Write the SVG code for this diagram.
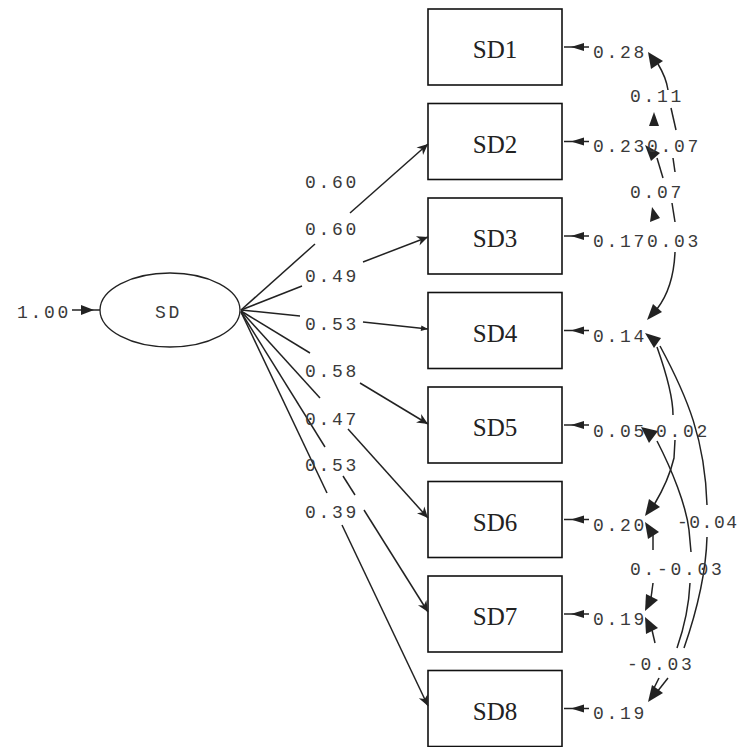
<svg xmlns="http://www.w3.org/2000/svg" width="739" height="747" viewBox="0 0 739 747">
<defs>
<style>
.box{fill:none;stroke:#111;stroke-width:1.6}
.lbl{font-family:"Liberation Mono","DejaVu Sans Mono",monospace;font-size:18px;letter-spacing:2.7px;fill:#3a3a3a}
.nm{font-family:"Liberation Serif","DejaVu Serif",serif;font-size:25px;fill:#222;text-anchor:middle}
.ln{stroke:#222;stroke-width:1.5;fill:none}
.ah{fill:#222}
</style>
<marker id="big" viewBox="0 0 10 10" refX="10" refY="5" markerWidth="16" markerHeight="11" markerUnits="userSpaceOnUse" orient="auto">
<path d="M0,0.5 L10,5 L0,9.5 L3,5 z" fill="#222"/>
</marker>
<marker id="small" viewBox="0 0 10 10" refX="10" refY="5" markerWidth="11" markerHeight="7" markerUnits="userSpaceOnUse" orient="auto">
<path d="M0,1 L10,5 L0,9 z" fill="#222"/>
</marker>
</defs>
<rect width="739" height="747" fill="#fff"/>

<g id="SD">
<ellipse cx="170" cy="310" rx="70" ry="37" fill="none" stroke="#222" stroke-width="1.3"/>
<text class="lbl" x="155" y="318">SD</text>
<text class="lbl" x="17" y="318">1.00</text>
<line class="ln" x1="72" y1="310" x2="100" y2="310"/>
<polygon class="ah" points="94,310 81,305 81,315"/>
</g>

<g id="SD1"><rect class="box" x="428" y="9" width="134" height="76"/><text class="nm" x="495" y="58">SD1</text></g>
<g id="SD2"><rect class="box" x="428" y="103.5" width="134" height="76"/><text class="nm" x="495" y="152.5">SD2</text></g>
<g id="SD3"><rect class="box" x="428" y="198" width="134" height="76"/><text class="nm" x="495" y="247">SD3</text></g>
<g id="SD4"><rect class="box" x="428" y="292.5" width="134" height="76"/><text class="nm" x="495" y="341.5">SD4</text></g>
<g id="SD5"><rect class="box" x="428" y="387" width="134" height="76"/><text class="nm" x="495" y="436">SD5</text></g>
<g id="SD6"><rect class="box" x="428" y="481.5" width="134" height="76"/><text class="nm" x="495" y="530.5">SD6</text></g>
<g id="SD7"><rect class="box" x="428" y="576" width="134" height="76"/><text class="nm" x="495" y="625">SD7</text></g>
<g id="SD8"><rect class="box" x="428" y="670.5" width="134" height="76"/><text class="nm" x="495" y="719.5">SD8</text></g>

<g id="loadings">
<line class="ln" x1="241" y1="310" x2="315" y2="244"/>
<line class="ln" x1="350" y1="213" x2="428" y2="144" marker-end="url(#big)"/>
<line class="ln" x1="241" y1="310" x2="302" y2="286"/>
<line class="ln" x1="363" y1="262" x2="428" y2="237" marker-end="url(#big)"/>
<line class="ln" x1="241" y1="310" x2="300" y2="316"/>
<line class="ln" x1="363" y1="322" x2="428" y2="329" marker-end="url(#small)"/>
<line class="ln" x1="241" y1="311" x2="310" y2="353"/>
<line class="ln" x1="360" y1="383" x2="428" y2="424" marker-end="url(#big)"/>
<line class="ln" x1="241" y1="311" x2="320" y2="398"/>
<line class="ln" x1="348" y1="429" x2="428" y2="518" marker-end="url(#big)"/>
<line class="ln" x1="241" y1="312" x2="325" y2="447"/>
<line class="ln" x1="343" y1="476" x2="355" y2="495"/>
<line class="ln" x1="364" y1="510" x2="428" y2="612" marker-end="url(#big)"/>
<line class="ln" x1="241" y1="312" x2="327" y2="493"/>
<line class="ln" x1="342" y1="525" x2="428" y2="706" marker-end="url(#big)"/>
<text class="lbl" x="305" y="188">0.60</text>
<text class="lbl" x="305" y="235">0.60</text>
<text class="lbl" x="305" y="282">0.49</text>
<text class="lbl" x="305" y="330">0.53</text>
<text class="lbl" x="305" y="377">0.58</text>
<text class="lbl" x="305" y="425">0.47</text>
<text class="lbl" x="305" y="471">0.53</text>
<text class="lbl" x="305" y="518">0.39</text>
</g>

<g id="errors">
<line class="ln" x1="589" y1="47" x2="564" y2="47"/><polygon class="ah" points="571,47 584,43 584,51"/>
<line class="ln" x1="589" y1="141.5" x2="564" y2="141.5"/><polygon class="ah" points="571,141.5 584,137.5 584,145.5"/>
<line class="ln" x1="589" y1="236" x2="564" y2="236"/><polygon class="ah" points="571,236 584,232 584,240"/>
<line class="ln" x1="589" y1="330.5" x2="564" y2="330.5"/><polygon class="ah" points="571,330.5 584,326.5 584,334.5"/>
<line class="ln" x1="589" y1="425" x2="564" y2="425"/><polygon class="ah" points="571,425 584,421 584,429"/>
<line class="ln" x1="589" y1="519.5" x2="564" y2="519.5"/><polygon class="ah" points="571,519.5 584,515.5 584,523.5"/>
<line class="ln" x1="589" y1="614" x2="564" y2="614"/><polygon class="ah" points="571,614 584,610 584,618"/>
<line class="ln" x1="589" y1="708.5" x2="564" y2="708.5"/><polygon class="ah" points="571,708.5 584,704.5 584,712.5"/>
<text class="lbl" x="593" y="58">0.28</text>
<text class="lbl" x="593" y="152">0.23</text>
<text class="lbl" x="593" y="247">0.17</text>
<text class="lbl" x="593" y="342">0.14</text>
<text class="lbl" x="593" y="437">0.05</text>
<text class="lbl" x="593" y="531">0.20</text>
<text class="lbl" x="593" y="625">0.19</text>
<text class="lbl" x="593" y="719">0.19</text>
</g>

<g id="covariances">
<path class="ln" d="M658,64 C664,74 667,83 668,90"/>
<path class="ln" d="M671,108 L676,130"/>
<path class="ln" d="M673,158 L675,172"/>
<path class="ln" d="M672,203 L675,222"/>
<path class="ln" d="M675,252 C674,278 667,296 657,309"/>
<path class="ln" d="M657,158 L663,178"/>
<path class="ln" d="M660,346 C688,398 705,440 707,505"/>
<path class="ln" d="M707,537 C706,572 699,605 684,648"/>
<path class="ln" d="M668,678 L657,692"/>
<path class="ln" d="M657,347 C668,378 673,400 673,415"/>
<path class="ln" d="M675,440 L674,458 C670,475 663,490 654,505"/>
<path class="ln" d="M657,441 C672,470 686,505 689,530 L691,552"/>
<path class="ln" d="M690,583 C689,605 684,628 677,648"/>
<path class="ln" d="M659,678 L652,692"/>
<path class="ln" d="M653,535 L653,550"/>
<path class="ln" d="M653,583 L651,598"/>
<path class="ln" d="M652,630 L655,643"/>
<polygon class="ah" points="648,52 663,61 651,69"/>
<polygon class="ah" points="654,112 659,126 649,126"/>
<polygon class="ah" points="645,145 660,153 651,161"/>
<polygon class="ah" points="650,222 652,207 660,218"/>
<polygon class="ah" points="647,320 662,312 653,304"/>
<polygon class="ah" points="645,333 661,338 654,348"/>
<polygon class="ah" points="641,427 658,431 649,443"/>
<polygon class="ah" points="645,516 660,507 649,499"/>
<polygon class="ah" points="645,522 659,532 648,539"/>
<polygon class="ah" points="645,611 658,600 646,594"/>
<polygon class="ah" points="645,617 658,628 646,634"/>
<polygon class="ah" points="648,702 663,693 652,685"/>
<text class="lbl" x="630" y="102">0.11</text>
<text class="lbl" x="647" y="152">0.07</text>
<text class="lbl" x="630" y="198">0.07</text>
<text class="lbl" x="647" y="247">0.03</text>
<text class="lbl" x="656" y="437">0.02</text>
<text class="lbl" x="677" y="528" style="letter-spacing:1.5px">-0.04</text>
<text class="lbl" x="630" y="575">0.-0.03</text>
<text class="lbl" x="627" y="670">-0.03</text>
</g>
</svg>
